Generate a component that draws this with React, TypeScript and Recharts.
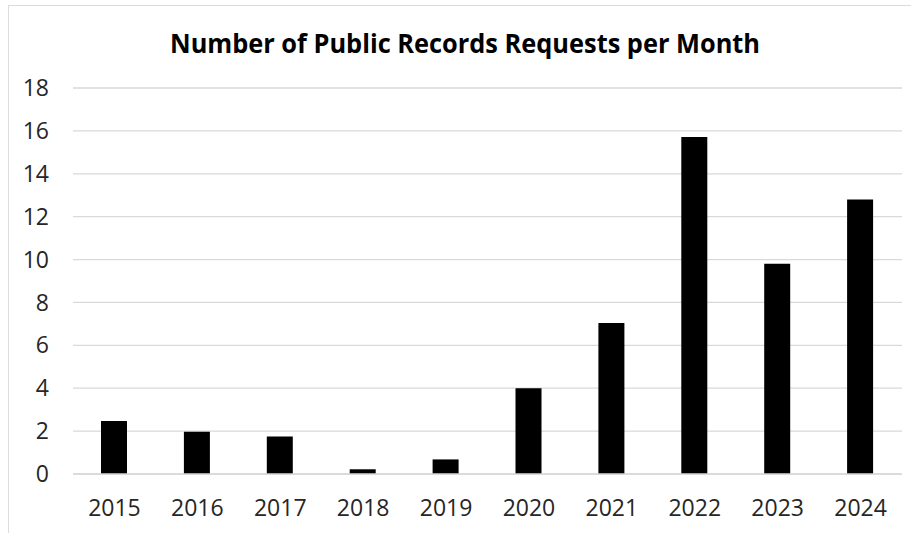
import React from 'react';
import { BarChart, Bar, XAxis, YAxis, CartesianGrid } from 'recharts';

const years = ['2015', '2016', '2017', '2018', '2019', '2020', '2021', '2022', '2023', '2024'];
const requests = [2.47, 1.97, 1.75, 0.22, 0.68, 4.0, 7.04, 15.72, 9.8, 12.8];
const yTicks = [0, 2, 4, 6, 8, 10, 12, 14, 16, 18];
const title = 'Number of Public Records Requests per Month';

const data = years.map((y, i) => ({ year: y, value: requests[i] }));

const FONT = '"Open Sans", "Noto Sans", sans-serif';

export default function App() {
  return (
    <div style={{ position: 'absolute', left: 0, top: 0, width: 911, height: 533, background: '#fff', overflow: 'hidden' }}>
      <div
        style={{
          position: 'absolute',
          left: 8,
          top: 5,
          width: 950,
          height: 600,
          borderLeft: '1.5px solid #dcdcdc',
          borderTop: '1.5px solid #dcdcdc',
        }}
      />
      <BarChart
        width={911}
        height={533}
        data={data}
        margin={{ top: 88, right: 9, left: 0, bottom: 0 }}
        style={{ position: 'absolute', left: 0, top: 0 }}
      >
        <CartesianGrid vertical={false} stroke="#d9d9d9" strokeWidth={1.3} />
        <XAxis
          dataKey="year"
          height={59}
          tickLine={false}
          axisLine={{ stroke: '#d9d9d9', strokeWidth: 1.3 }}
          tickSize={0}
          tickMargin={26}
          tick={{ fill: '#262626', fontSize: 23, fontFamily: FONT }}
          interval={0}
        />
        <YAxis
          width={73}
          domain={[0, 18]}
          ticks={yTicks}
          tickLine={false}
          axisLine={false}
          tickSize={0}
          tickMargin={24}
          tick={{ fill: '#262626', fontSize: 23, fontFamily: FONT }}
          interval={0}
        />
        <Bar dataKey="value" fill="#000000" barSize={26} isAnimationActive={false} />
      </BarChart>
      <svg width={911} height={80} style={{ position: 'absolute', left: 0, top: 0 }}>
        <text
          x={465}
          y={53}
          textAnchor="middle"
          fontFamily={FONT}
          fontWeight="bold"
          fontSize={27}
          fill="#000"
          textLength={590}
          lengthAdjust="spacingAndGlyphs"
        >
          {title}
        </text>
      </svg>
    </div>
  );
}
